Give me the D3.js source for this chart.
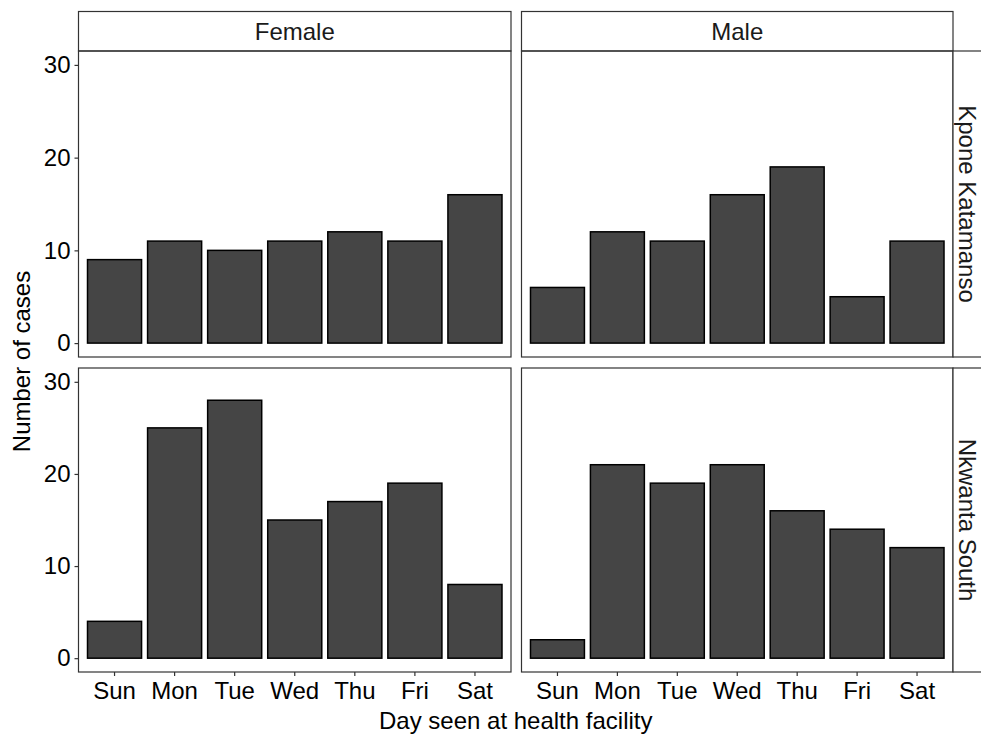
<!DOCTYPE html>
<html>
<head>
<meta charset="utf-8">
<script src="https://cdn.jsdelivr.net/npm/d3@7.9.0/dist/d3.min.js"></script>
<style>
  body { margin: 0; background: #fff; }
  svg { display: block; font-family: "Liberation Sans", Arial, sans-serif; }
</style>
</head>
<body>
<svg width="981" height="736"></svg>
<script>
// data
const days = ['Sun', 'Mon', 'Tue', 'Wed', 'Thu', 'Fri', 'Sat'];
const sexes = ['Female', 'Male'];
const districts = ['Kpone Katamanso', 'Nkwanta South'];
const yTicks = [0, 10, 20, 30];

const kponeFemale = [9, 11, 10, 11, 12, 11, 16];
const kponeMale = [6, 12, 11, 16, 19, 5, 11];
const nkwantaFemale = [4, 25, 28, 15, 17, 19, 8];
const nkwantaMale = [2, 21, 19, 21, 16, 14, 12];

const counts = {
    'Kpone Katamanso': { Female: kponeFemale, Male: kponeMale },
    'Nkwanta South': { Female: nkwantaFemale, Male: nkwantaMale }
};

const svg = d3.select('svg');
const border = '#333333';

// panel geometry
const cols = [[78.5, 511], [521.5, 953]];
const rows = [[51, 357], [368, 672]];
const stripTop = 11.5;

const y = d3.scaleLinear().domain([-1.5, 31.5]);

sexes.forEach((sex, ci) => {
    let [x0, x1] = cols[ci];
    let x = d3.scaleBand().domain(days).range([x0, x1])
        .paddingInner(0.1).paddingOuter(0.15);

    // top strip
    svg.append('rect')
        .attr('x', x0).attr('y', stripTop)
        .attr('width', x1 - x0).attr('height', rows[0][0] - stripTop)
        .attr('fill', '#fff').attr('stroke', border).attr('stroke-width', 1.2);
    svg.append('text')
        .attr('x', (x0 + x1) / 2).attr('y', (stripTop + rows[0][0]) / 2)
        .attr('dy', '0.35em').attr('text-anchor', 'middle')
        .attr('font-size', 24).attr('fill', '#1a1a1a')
        .text(sex);

    districts.forEach((dist, ri) => {
        let [y0, y1] = rows[ri];
        y.range([y1, y0]);
        let g = svg.append('g');

        g.selectAll('rect.bar')
            .data(counts[dist][sex])
            .join('rect')
            .attr('class', 'bar')
            .attr('x', (d, i) => x(days[i]))
            .attr('width', x.bandwidth())
            .attr('y', (d) => y(d))
            .attr('height', (d) => y(0) - y(d))
            .attr('fill', '#454545')
            .attr('stroke', '#000')
            .attr('stroke-width', 1.5);

        g.append('rect')
            .attr('x', x0).attr('y', y0)
            .attr('width', x1 - x0).attr('height', y1 - y0)
            .attr('fill', 'none').attr('stroke', border).attr('stroke-width', 1.2);

        if (ci === 0) {
            let yAxis = g.append('g')
                .attr('transform', `translate(${x0},0)`)
                .call(d3.axisLeft(y).tickValues(yTicks).tickSize(4).tickPadding(4));
            yAxis.select('.domain').remove();
            yAxis.selectAll('line').attr('stroke', border).attr('stroke-width', 1.2);
            yAxis.selectAll('text').attr('font-size', 24).attr('fill', '#000')
                .attr('font-family', '"Liberation Sans", Arial, sans-serif');
        }

        if (ri === 1) {
            let xAxis = g.append('g')
                .attr('transform', `translate(0,${y1})`)
                .call(d3.axisBottom(x).tickSize(4).tickPadding(6));
            xAxis.select('.domain').remove();
            xAxis.selectAll('line').attr('stroke', border).attr('stroke-width', 1.2);
            xAxis.selectAll('text').attr('font-size', 24).attr('fill', '#000')
                .attr('font-family', '"Liberation Sans", Arial, sans-serif');
        }

        if (ci === 1) {
            // right strip, cut off by the page edge
            svg.append('rect')
                .attr('x', x1).attr('y', y0)
                .attr('width', 60).attr('height', y1 - y0)
                .attr('fill', '#fff').attr('stroke', border).attr('stroke-width', 1.2);
            svg.append('text')
                .attr('transform', `translate(${x1 + 14},${(y0 + y1) / 2}) rotate(90)`)
                .attr('dy', '0.35em').attr('text-anchor', 'middle')
                .attr('font-size', 24).attr('fill', '#1a1a1a')
                .text(dist);
        }
    });
});

// axis titles
svg.append('text')
    .attr('x', (cols[0][0] + cols[1][1]) / 2).attr('y', 729)
    .attr('text-anchor', 'middle').attr('font-size', 24)
    .text('Day seen at health facility');

svg.append('text')
    .attr('transform', `translate(30,${(rows[0][0] + rows[1][1]) / 2}) rotate(-90)`)
    .attr('text-anchor', 'middle').attr('font-size', 24)
    .text('Number of cases');
</script>
</body>
</html>
